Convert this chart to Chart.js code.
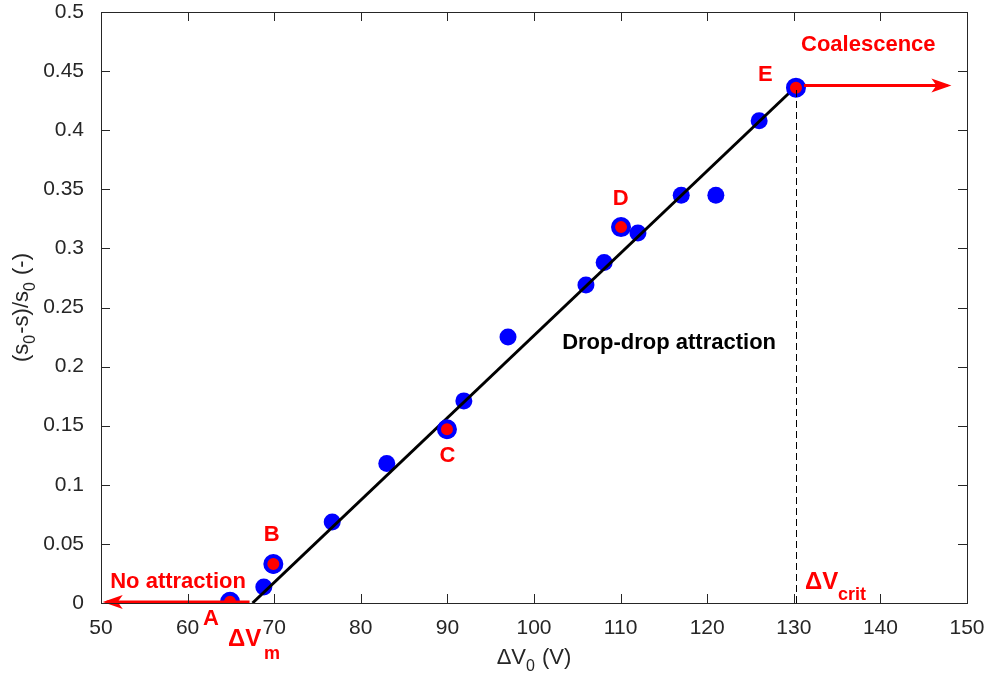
<!DOCTYPE html>
<html><head><meta charset="utf-8">
<script src="https://cdn.jsdelivr.net/npm/chart.js@4"></script>
<style>html,body{margin:0;padding:0;background:#fff}#wrap{width:989px;height:685px}</style>
</head><body><div id="wrap"><canvas id="c" width="989" height="685"></canvas></div>
<script>
// Data
const dropVoltage = [64.9, 68.8, 69.9, 76.7, 83.0, 90.0, 91.9, 97.0, 106.0, 108.1, 110.05, 112.0, 117.0, 121.0, 126.0, 130.25];
const dropAttraction = [0.002, 0.0136, 0.032, 0.0686, 0.118, 0.146, 0.171, 0.225, 0.269, 0.288, 0.318, 0.313, 0.345, 0.345, 0.408, 0.436];
const markedLabels = ['A', 'B', 'C', 'D', 'E'];
const markedVoltage = [64.9, 69.9, 89.95, 110.05, 130.25];
const markedAttraction = [0.001, 0.033, 0.147, 0.318, 0.436];
const fitVoltage = [67.5, 130.25];
const fitAttraction = [0.0, 0.437];
const xTicks = [50, 60, 70, 80, 90, 100, 110, 120, 130, 140, 150];
const yTicks = [0, 0.05, 0.1, 0.15, 0.2, 0.25, 0.3, 0.35, 0.4, 0.45, 0.5];
const vCrit = 130.25;
const vMin = 67.5;

const RED = '#ff0000', BLUE = '#0000ff', TXT = '#262626';
const FONT = '"Liberation Sans", Arial, Helvetica, sans-serif';

const toPts = (xs, ys) => xs.map((x, i) => ({x, y: ys[i]}));

const annot = {
  id: 'annot',
  afterDatasetsDraw(chart) {
    const {ctx, chartArea: a, scales: {x, y}} = chart;
    const px = v => x.getPixelForValue(v), py = v => y.getPixelForValue(v);
    ctx.save();
    // dashed vertical at critical voltage
    ctx.strokeStyle = '#000'; ctx.lineWidth = 1; ctx.setLineDash([7, 4]);
    ctx.beginPath(); ctx.moveTo(Math.round(px(vCrit)) + 0.5, py(0)); ctx.lineTo(Math.round(px(vCrit)) + 0.5, py(fitAttraction[1])); ctx.stroke();
    ctx.setLineDash([]);
    // arrows
    function arrow(x0, y0, x1, y1) {
      ctx.strokeStyle = RED; ctx.fillStyle = RED; ctx.lineWidth = 3;
      const dir = Math.sign(x1 - x0);
      ctx.beginPath(); ctx.moveTo(x0, y0); ctx.lineTo(x1 - dir * 4, y1); ctx.stroke();
      ctx.beginPath();
      ctx.moveTo(x1, y1);
      ctx.lineTo(x1 - dir * 20, y1 - 7);
      ctx.lineTo(x1 - dir * 15, y1);
      ctx.lineTo(x1 - dir * 20, y1 + 7);
      ctx.closePath(); ctx.fill();
    }
    arrow(px(vCrit) + 8, py(0.437) - 1, px(148.2), py(0.437) - 1);
    arrow(px(vMin) - 3, py(0) - 1, px(50.2), py(0) - 1);

    // texts
    ctx.textAlign = 'center'; ctx.textBaseline = 'middle';
    ctx.font = 'bold 22px ' + FONT;
    ctx.fillStyle = RED;
    const letterPos = [[62.7, -0.0136], [69.7, 0.0576], [90.0, 0.1246], [110.0, 0.342], [126.7, 0.4466]];
    markedLabels.forEach((l, i) => ctx.fillText(l, px(letterPos[i][0]), py(letterPos[i][1])));
    ctx.fillText('Coalescence', px(138.6), py(0.472));
    ctx.fillText('No attraction', px(58.9), py(0.0178));
    ctx.fillStyle = '#000';
    ctx.fillText('Drop-drop attraction', px(115.6), py(0.2203));
    // Delta V labels
    ctx.fillStyle = RED; ctx.textAlign = 'left';
    ctx.font = 'bold 24px ' + FONT;
    ctx.fillText('\u0394V', 228, 639);
    ctx.font = 'bold 18px ' + FONT;
    ctx.fillText('m', 264, 654);
    ctx.font = 'bold 24px ' + FONT;
    ctx.fillText('\u0394V', 805, 582);
    ctx.font = 'bold 18px ' + FONT;
    ctx.fillText('crit', 838, 595);

    // box and inward ticks
    ctx.strokeStyle = TXT; ctx.lineWidth = 1;
    ctx.strokeRect(Math.round(a.left) + 0.5, Math.round(a.top) + 0.5, Math.round(a.right - a.left), Math.round(a.bottom - a.top));
    ctx.beginPath();
    xTicks.forEach(t => {
      const X = Math.round(px(t)) + 0.5;
      ctx.moveTo(X, a.bottom); ctx.lineTo(X, a.bottom - 9);
      ctx.moveTo(X, a.top); ctx.lineTo(X, a.top + 9);
    });
    yTicks.forEach(t => {
      const Y = Math.round(py(t)) + 0.5;
      ctx.moveTo(a.left, Y); ctx.lineTo(a.left + 9, Y);
      ctx.moveTo(a.right, Y); ctx.lineTo(a.right - 9, Y);
    });
    ctx.stroke();

    // axis titles
    ctx.fillStyle = TXT; ctx.textAlign = 'left'; ctx.textBaseline = 'middle';
    function sub(parts, startX, yy) {
      let cx = startX;
      parts.forEach(([t, s]) => {
        ctx.font = (s ? '16px ' : '22px ') + FONT;
        ctx.fillText(t, cx, yy + (s ? 9 : 0));
        cx += ctx.measureText(t).width + (s ? 1 : 0);
      });
      return cx - startX;
    }
    function measure(parts) {
      let w = 0;
      parts.forEach(([t, s]) => { ctx.font = (s ? '16px ' : '22px ') + FONT; w += ctx.measureText(t).width + (s ? 1 : 0); });
      return w;
    }
    const xt = [['\u0394V', 0], ['0', 1], [' (V)', 0]];
    const xw = measure(xt);
    sub(xt, (a.left + a.right) / 2 - xw / 2, 658);
    const yt = [['(s', 0], ['0', 1], ['-s)/s', 0], ['0', 1], [' (-)', 0]];
    const yw = measure(yt);
    ctx.save();
    ctx.translate(22, (a.top + a.bottom) / 2);
    ctx.rotate(-Math.PI / 2);
    sub(yt, -yw / 2, 0);
    ctx.restore();
    ctx.restore();
  }
};

new Chart(document.getElementById('c'), {
  type: 'scatter',
  data: {
    datasets: [
      {label: 'marked', data: toPts(markedVoltage, markedAttraction), order: 1,
       pointRadius: 8, pointBorderWidth: 4, pointBackgroundColor: RED, pointBorderColor: BLUE, showLine: false},
      {label: 'fit', data: toPts(fitVoltage, fitAttraction), order: 2, showLine: true,
       borderColor: '#000', borderWidth: 3, pointRadius: 0},
      {label: 'drops', data: toPts(dropVoltage, dropAttraction), order: 3,
       pointRadius: 8.5, pointBorderWidth: 0, pointBackgroundColor: BLUE, pointBorderColor: BLUE, showLine: false}
    ]
  },
  options: {
    responsive: false, animation: false, devicePixelRatio: 1,
    layout: {padding: {top: 12, right: 22, left: 0, bottom: 0}},
    plugins: {legend: {display: false}, tooltip: {enabled: false}},
    scales: {
      x: {type: 'linear', min: 50, max: 150,
          afterBuildTicks: s => { s.ticks = xTicks.map(v => ({value: v})); },
          afterFit: s => { s.height = 82; s.paddingLeft = 0; s.paddingRight = 0; },
          grid: {display: false}, border: {display: false},
          ticks: {color: TXT, font: {family: FONT, size: 21}, padding: 5, maxRotation: 0, autoSkip: false}},
      y: {type: 'linear', min: 0, max: 0.5,
          afterBuildTicks: s => { s.ticks = yTicks.map(v => ({value: v})); },
          afterFit: s => { s.width = 101; s.paddingTop = 0; s.paddingBottom = 0; },
          grid: {display: false}, border: {display: false},
          ticks: {color: TXT, font: {family: FONT, size: 21}, padding: 9, autoSkip: false,
                  callback: v => String(Math.round(v * 100) / 100)}}
    }
  },
  plugins: [annot]
});
</script></body></html>
